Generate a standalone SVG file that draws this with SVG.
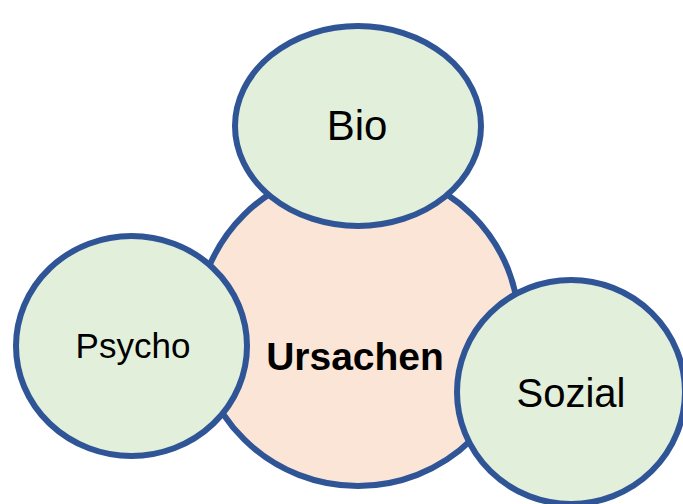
<svg xmlns="http://www.w3.org/2000/svg" width="683" height="504" viewBox="0 0 683 504">
  <style>
    .shape { stroke: #2F5597; stroke-width: 6; }
    .center { fill: #FBE5D6; }
    .leaf { fill: #E2EFDA; }
    .lbl { font-family: "Liberation Sans", Arial, sans-serif; fill: #000; text-anchor: middle; }
    .bold { font-weight: bold; }
  </style>
  <rect width="683" height="504" fill="#FFFFFF"/>
  <g id="connectors"></g>
  <g id="ursachen">
    <ellipse class="shape center" cx="358" cy="327" rx="161" ry="159"/>
    <text class="lbl bold" x="355" y="370" font-size="39">Ursachen</text>
  </g>
  <g id="bio">
    <ellipse class="shape leaf" cx="358" cy="126" rx="123" ry="100"/>
    <text class="lbl" x="357" y="140" font-size="42">Bio</text>
  </g>
  <g id="psycho">
    <ellipse class="shape leaf" cx="131.5" cy="346" rx="115.5" ry="110"/>
    <text class="lbl" x="133" y="358" font-size="35">Psycho</text>
  </g>
  <g id="sozial">
    <ellipse class="shape leaf" cx="571" cy="392" rx="114" ry="112"/>
    <text class="lbl" x="571" y="407" font-size="40">Sozial</text>
  </g>
</svg>
